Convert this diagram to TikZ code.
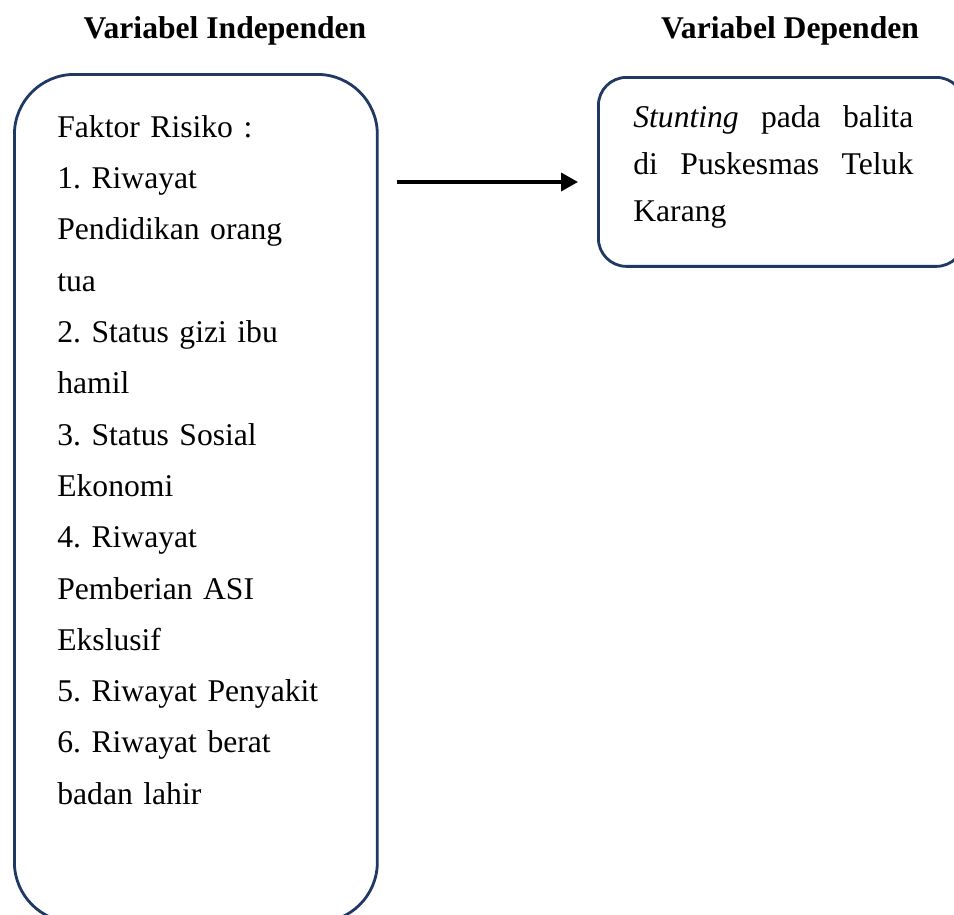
\documentclass[tikz,border=0pt]{standalone}
\usepackage{fontspec}
\setmainfont{Liberation Serif}
\usetikzlibrary{arrows.meta,calc}
\definecolor{kerangka}{RGB}{31,56,100}
\frenchspacing

\begin{document}
\begin{tikzpicture}[x=0.02cm,y=-0.02cm,
                    kotak/.style={draw=kerangka,line width=1.6pt,rounded corners=#1,inner sep=0pt,anchor=north west},
                    judul/.style={font=\fontsize{18}{22}\selectfont\bfseries,anchor=base},
                    isi/.style={inner sep=0pt,anchor=north west,align=left,font=\fontsize{18}{29.2}\selectfont},
                    panah/.style={-{Triangle[length=0.34cm,width=0.36cm]},line width=2pt}]
\clip (0,0) rectangle (954,914);

\node[judul] (hbebas) at (225,38) {Variabel Independen};
\node[judul] (hterikat) at (790,38) {Variabel Dependen};

\node[kotak=1.2cm,minimum width=7.26cm,minimum height=16.96cm] (bebas) at (13,73) {};
\node[kotak=0.56cm,minimum width=7.32cm,minimum height=3.78cm] (terikat) at (597,76) {};

\node[isi,text width=6cm] (faktor) at (57,115) {Faktor Risiko :\\1. Riwayat\\Pendidikan orang\\tua\\
2. Status gizi ibu\\hamil\\3. Status Sosial\\Ekonomi\\4. Riwayat\\Pemberian ASI\\Ekslusif\\
5. Riwayat Penyakit\\6. Riwayat berat\\badan lahir};
\node[isi,align=justify,text width=5.6cm,font=\fontsize{18}{26.9}\selectfont] (stunting) at (633,105)
{\textit{Stunting} pada balita\linebreak di Puskesmas Teluk\linebreak Karang};

\coordinate (tengah) at (0,182);
\draw[panah,shorten <=0.36cm,shorten >=0.38cm] (bebas.east |- tengah) -- (terikat.west |- tengah);
\end{tikzpicture}
\end{document}
